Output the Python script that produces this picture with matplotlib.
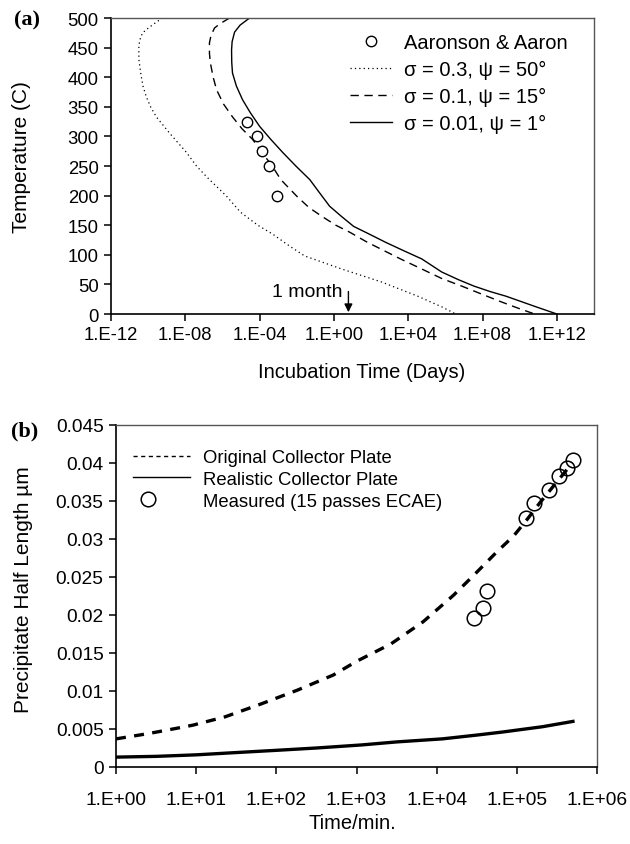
import numpy as np
import matplotlib
matplotlib.use("Agg")
import matplotlib.pyplot as plt
from matplotlib.ticker import FixedLocator
from matplotlib.legend_handler import HandlerLine2D

plt.rcParams["font.family"] = ["Liberation Sans", "DejaVu Sans"]

# --- panel (a): temperatura vs tiempo de incubacion (log10 dias) ---
a_exp_logt = [-4.69, -4.15, -3.86, -3.52, -3.05]
a_exp_T = [325, 300, 275, 250, 200]

a_dot_logt = [-9.23, -9.56, -9.95, -10.30, -10.45, -10.50, -10.50, -10.40, -10.28,
              -10.10, -9.87, -9.56, -8.86, -7.94, -7.40, -6.86, -5.78, -5.03, -4.10,
              -3.30, -2.40, -1.57, 0.42, 2.57, 4.52, 5.81, 6.56]
a_dot_T = [500, 493, 484, 475, 463, 451, 430, 407, 385,
           367, 350, 333, 306, 273, 250, 232, 199, 172, 150,
           135, 115, 98, 76, 54, 30, 12, 0]

a_dash_logt = [-5.62, -6.15, -6.43, -6.62, -6.70, -6.70, -6.65, -6.50, -6.32, -5.95,
               -5.46, -4.95, -4.38, -3.80, -3.30, -2.86, -2.00, -1.35, -0.65, 0.10,
               0.86, 1.75, 2.57, 3.65, 4.73, 5.80, 6.89, 8.00, 9.05, 9.90, 10.8]
a_dash_T = [500, 490, 483, 470, 458, 440, 424, 400, 379, 355,
            333, 313, 295, 270, 249, 227, 199, 180, 165, 150,
            138, 122, 109, 92, 76, 60, 47, 33, 20, 10, 0]

a_sol_logt = [-4.54, -5.05, -5.35, -5.48, -5.51, -5.50, -5.46, -5.25, -4.92, -4.50,
              -4.00, -3.40, -2.76, -2.05, -1.30, -0.78, -0.23, 0.40, 1.06, 1.90,
              2.79, 3.75, 4.73, 5.80, 6.70, 7.55, 8.40, 9.27, 10.8, 12.0]
a_sol_T = [500, 488, 476, 460, 446, 425, 407, 385, 362, 340,
           317, 295, 273, 250, 227, 205, 182, 165, 148, 135,
           121, 107, 93, 71, 58, 47, 38, 30, 13, 0]

a_xticks = [1e-12, 1e-8, 1e-4, 1e0, 1e4, 1e8, 1e12]
a_xlabels = ["1.E-12", "1.E-08", "1.E-04", "1.E+00", "1.E+04", "1.E+08", "1.E+12"]
mes_logt = 0.78

# --- panel (b): semilongitud del precipitado vs tiempo (min) ---
b_orig_logt = [0.0, 0.405, 0.71, 0.957, 1.36, 1.81, 2.26, 2.71, 3.0, 3.43, 3.83,
               4.21, 4.46, 4.75, 4.96, 5.13, 5.29, 5.46, 5.63, 5.69]
b_orig_v = [0.0037, 0.0044, 0.0050, 0.0055, 0.0066, 0.0083, 0.0101, 0.0121, 0.0139,
            0.0162, 0.0191, 0.0226, 0.0252, 0.0283, 0.0304, 0.0326, 0.0348, 0.0370,
            0.0392, 0.0401]

b_real_logt = [0.0, 0.5, 1.0, 1.5, 2.01, 2.5, 3.06, 3.5, 4.07, 4.5, 4.82, 5.32, 5.70]
b_real_v = [0.0013, 0.0014, 0.0016, 0.0019, 0.0022, 0.0025, 0.0029, 0.0033, 0.0037,
            0.0042, 0.0046, 0.0053, 0.0060]

b_meas_logt = [4.47, 4.58, 4.63, 5.11, 5.21, 5.40, 5.52, 5.63, 5.70]
b_meas_v = [0.0196, 0.0209, 0.0232, 0.0327, 0.0347, 0.0365, 0.0383, 0.0394, 0.0404]

b_xticks = [1e0, 1e1, 1e2, 1e3, 1e4, 1e5, 1e6]
b_xlabels = ["1.E+00", "1.E+01", "1.E+02", "1.E+03", "1.E+04", "1.E+05", "1.E+06"]
b_yticks = [0, 0.005, 0.01, 0.015, 0.02, 0.025, 0.03, 0.035, 0.04, 0.045]
b_ylabels = ["0", "0.005", "0.01", "0.015", "0.02", "0.025", "0.03", "0.035", "0.04", "0.045"]

W, H = 630, 845
fig = plt.figure(figsize=(W / 100, H / 100), dpi=100)


def caja(x0, y0, x1, y1):
    return [x0 / W, 1 - y1 / H, (x1 - x0) / W, (y1 - y0) / H]


def estilo(ax, tam):
    for s in ["left", "bottom"]:
        ax.spines[s].set_linewidth(1.2)
    for s in ["top", "right"]:
        ax.spines[s].set_linewidth(1.0)
        ax.spines[s].set_color("#555555")
    ax.tick_params(direction="out", length=5, width=1.1, labelsize=tam,
                   top=False, right=False, pad=4)
    ax.minorticks_off()


class MarcaIzq(HandlerLine2D):
    # marcador de la leyenda corrido a la izquierda, como en el original
    # (la linea es invisible, solo importa el punto medio)
    def get_xdata(self, legend, xdescent, ydescent, width, height, fontsize):
        xd = [-xdescent, -xdescent + 0.52 * width]
        return xd, [-xdescent + 0.26 * width]


# ----- (a) -----
ax1 = fig.add_axes(caja(111, 19, 594, 315))
ax1.set_xscale("log")
ax1.plot(10 ** np.array(a_dot_logt), a_dot_T, color="black", lw=0.9,
         ls=(0, (1, 2.5)), label="σ = 0.3, ψ = 50°")
ax1.plot(10 ** np.array(a_dash_logt), a_dash_T, color="black", lw=1.0,
         ls=(0, (6, 4)), label="σ = 0.1, ψ = 15°")
ax1.plot(10 ** np.array(a_sol_logt), a_sol_T, color="black", lw=1.0,
         label="σ = 0.01, ψ = 1°")
ax1.plot(10 ** np.array(a_exp_logt), a_exp_T, "o", mfc="white", mec="black",
         ms=7.5, mew=1.0, ls="none", label="Aaronson & Aaron")
ax1.set_xlim(1e-12, 1e14)
ax1.set_ylim(0, 500)
ax1.xaxis.set_major_locator(FixedLocator(a_xticks))
ax1.set_xticklabels(a_xlabels)
ax1.set_yticks(range(0, 501, 50))
estilo(ax1, 13.3)
ax1.set_ylabel("Temperature (C)", fontsize=15)
ax1.yaxis.set_label_coords(31 / W, 1 - 157 / H, transform=fig.transFigure)
ax1.set_xlabel("Incubation Time (Days)", fontsize=14.5)
ax1.xaxis.set_label_coords(362 / W, 1 - 363 / H, transform=fig.transFigure)
ax1.annotate("", xy=(10 ** mes_logt, 3), xytext=(10 ** mes_logt, 38),
             arrowprops=dict(arrowstyle="-|>", color="black", lw=1.0,
                             mutation_scale=12, shrinkA=0, shrinkB=0))
ax1.text(10 ** (mes_logt - 0.3), 38, "1 month", ha="right", va="center", fontsize=14)
h, l = ax1.get_legend_handles_labels()
orden = [3, 0, 1, 2]
ax1.legend([h[i] for i in orden], [l[i] for i in orden], loc="upper left",
           bbox_to_anchor=(350 / W, 1 - 34 / H), bbox_transform=fig.transFigure,
           frameon=False, fontsize=14.5, borderpad=0, borderaxespad=0,
           handlelength=2.1, handletextpad=0.6, labelspacing=0.4)
fig.text(14 / W, 1 - 20 / H, "(a)", fontsize=16, fontweight="bold",
         family="Liberation Serif", va="center", ha="left")

# ----- (b) -----
ax2 = fig.add_axes(caja(116, 426, 597, 768))
ax2.set_xscale("log")
ax2.plot(10 ** np.array(b_orig_logt), b_orig_v, color="black", lw=2.4,
         ls=(0, (3, 2.5)), label="Original Collector Plate")
ax2.plot(10 ** np.array(b_real_logt), b_real_v, color="black", lw=2.4,
         label="Realistic Collector Plate")
medidos, = ax2.plot(10 ** np.array(b_meas_logt), b_meas_v, "o", mfc="none", mec="black",
                    ms=10.5, mew=1.1, ls="none", label="Measured (15 passes ECAE)")
ax2.set_xlim(1e0, 1e6)
ax2.set_ylim(0, 0.045)
ax2.xaxis.set_major_locator(FixedLocator(b_xticks))
ax2.set_xticklabels(b_xlabels)
ax2.set_yticks(b_yticks)
ax2.set_yticklabels(b_ylabels)
estilo(ax2, 13.8)
ax2.tick_params(axis="x", pad=12)
ax2.set_ylabel("Precipitate Half Length µm", fontsize=15)
ax2.yaxis.set_label_coords(33 / W, 1 - 590 / H, transform=fig.transFigure)
ax2.set_xlabel("Time/min.", fontsize=14.5)
ax2.xaxis.set_label_coords(352 / W, 1 - 814 / H, transform=fig.transFigure)
h2, l2 = ax2.get_legend_handles_labels()
leg2 = ax2.legend(h2, l2, loc="upper left",
                  bbox_to_anchor=(133 / W, 1 - 450 / H), bbox_transform=fig.transFigure,
                  frameon=False, fontsize=13.3, borderpad=0, borderaxespad=0,
                  handlelength=3.1, handletextpad=0.7, labelspacing=0.26,
                  handler_map={medidos: MarcaIzq()})
for lh in leg2.get_lines():
    lh.set_linewidth(1.0)
fig.text(11 / W, 1 - 431 / H, "(b)", fontsize=16, fontweight="bold",
         family="Liberation Serif", va="center", ha="left")

fig.savefig("out.png", dpi=100)
